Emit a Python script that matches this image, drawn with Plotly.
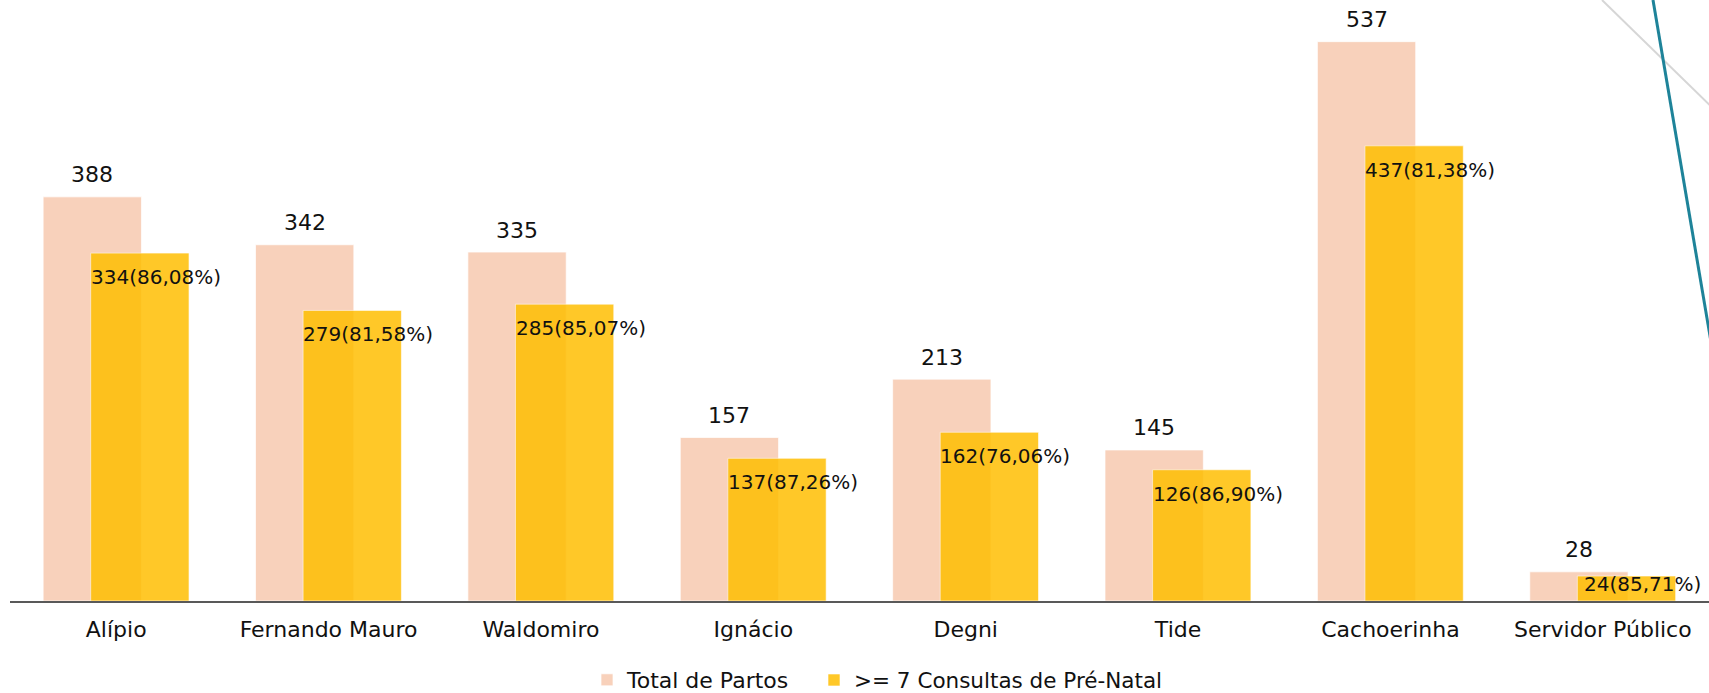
import plotly.graph_objects as go

categories = ["Alípio", "Fernando Mauro", "Waldomiro", "Ignácio", "Degni", "Tide", "Cachoerinha", "Servidor Público"]
total_partos = [388, 342, 335, 157, 213, 145, 537, 28]
consultas_7 = [334, 279, 285, 137, 162, 126, 437, 24]
series_names = ["Total de Partos", ">= 7 Consultas de Pré-Natal"]

W, H = 1709, 693
ML, MR, MT, MB = 10, 0, 0, 92
Y_MAX = 577
plot_h = H - MT - MB
px_per_unit = plot_h / Y_MAX
plot_w = W - ML - MR
cat_px = plot_w / len(categories)

BAR_W = 0.463
OFF_TOTAL = -0.344
OFF_YEL = -0.12

FONT = "DejaVu Sans"

fig = go.Figure()
fig.add_trace(go.Bar(
    x=categories, y=total_partos, name=series_names[0],
    marker=dict(color="#F8D1BB", line=dict(color="rgba(255,255,255,0.7)", width=1)),
    width=BAR_W, offset=OFF_TOTAL, hoverinfo="x+y", legend="legend",
))
fig.add_trace(go.Bar(
    x=categories, y=consultas_7, name=series_names[1],
    marker=dict(color="#FFBE00", line=dict(color="rgba(255,255,255,0.6)", width=1)),
    opacity=0.84, width=BAR_W, offset=OFF_YEL, hoverinfo="x+y", legend="legend2",
))

annotations = []
tot_center_shift = (OFF_TOTAL + BAR_W / 2) * cat_px
yel_center_shift = (OFF_YEL + BAR_W / 2) * cat_px
for c, t, v in zip(categories, total_partos, consultas_7):
    annotations.append(dict(
        x=c, y=t, xref="x", yref="y", text=str(t), showarrow=False,
        xshift=tot_center_shift, yshift=22, yanchor="middle",
        font=dict(family=FONT, size=22, color="#111111"),
    ))
    pct = f"{v / t * 100:.2f}".replace(".", ",")
    bar_px = v * px_per_unit
    drop = min(24, bar_px - 17)
    annotations.append(dict(
        x=c, y=v, xref="x", yref="y", text=f"{v}({pct}%)", showarrow=False,
        xshift=yel_center_shift + 16, yshift=-drop, yanchor="middle",
        font=dict(family=FONT, size=20, color="#111111"),
    ))

shapes = [
    dict(type="line", xref="paper", yref="paper",
         x0=(1602 - ML) / plot_w, y0=1.0,
         x1=(1760 - ML) / plot_w, y1=(plot_h - 154) / plot_h,
         line=dict(color="#D6D6D6", width=2), layer="above"),
    dict(type="line", xref="paper", yref="paper",
         x0=(1653 - ML) / plot_w, y0=1.0,
         x1=(1720 - ML) / plot_w, y1=(plot_h - 395) / plot_h,
         line=dict(color="#1E8399", width=3), layer="above"),
]

legend_style = dict(
    orientation="h", xanchor="left",
    yref="container", y=(H - 680) / H, yanchor="middle",
    itemwidth=30, bgcolor="rgba(0,0,0,0)",
)

fig.update_layout(
    width=W, height=H, autosize=False,
    margin=dict(l=ML, r=MR, t=MT, b=MB, pad=0),
    paper_bgcolor="white", plot_bgcolor="white",
    barmode="overlay",
    font=dict(family=FONT, size=22, color="#111111"),
    xaxis=dict(
        showline=True, linecolor="#595959", linewidth=2,
        showgrid=False, zeroline=False, ticks="",
        tickfont=dict(family=FONT, size=22, color="#111111"),
        ticklabelstandoff=8,
        fixedrange=True,
    ),
    yaxis=dict(
        range=[0, Y_MAX], visible=False, showgrid=False, zeroline=False,
        fixedrange=True,
    ),
    legend=dict(x=(603 - 16 - ML) / plot_w,
                font=dict(family=FONT, size=22, color="#111111"), **legend_style),
    legend2=dict(x=(830 - 16 - ML) / plot_w,
                 font=dict(family=FONT, size=21.5, color="#111111"), **legend_style),
    annotations=annotations,
    shapes=shapes,
    showlegend=True,
)

fig.write_html(
    "out.html",
    config={"displayModeBar": False},
    post_script="document.body.style.margin='0';document.body.style.overflow='hidden';",
)
